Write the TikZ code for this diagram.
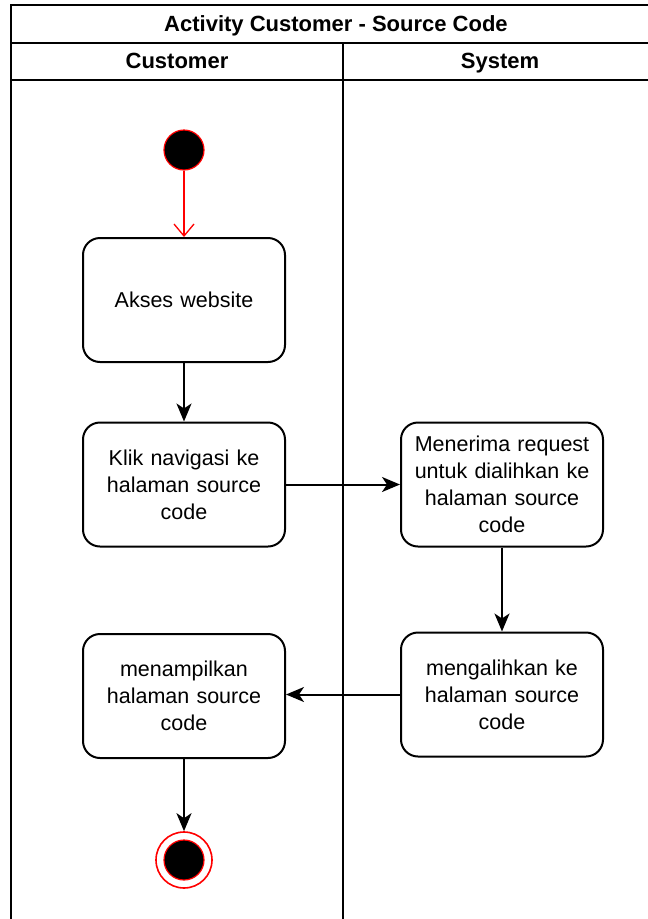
\documentclass[tikz,border=0pt]{standalone}
\usepackage{fontspec}
\setmainfont{Liberation Sans}
\usetikzlibrary{arrows.meta}
\definecolor{umlred}{RGB}{255,0,0}
\begin{document}
\begin{tikzpicture}[x=1pt,y=-1pt,
  lane/.style={draw=black,line width=2pt},
  actbox/.style={draw=black,line width=2pt,rounded corners=17pt,
    minimum width=202pt,minimum height=124pt,align=center,
    font=\fontsize{21.5}{27}\selectfont,inner sep=0pt,text width=198pt},
  flow/.style={draw=black,line width=2pt,-{Stealth[length=18pt,width=15pt,inset=5pt]}},
  startflow/.style={draw=umlred,line width=1.3pt,-{Straight Barb[length=12pt,width=20pt]}},
  hdr/.style={font=\bfseries\fontsize{22}{24}\selectfont,text height=15pt,text depth=4pt,inner sep=0pt}]
\useasboundingbox (0,0) rectangle (648,919);
\begin{scope}
\clip (0,0) rectangle (648,919);
% swimlane frame
\draw[lane] (11,940) -- (11,5) -- (660,5) -- (660,940);
\draw[lane] (11,43) -- (660,43);
\draw[lane] (11,80) -- (660,80);
\draw[lane] (343,43) -- (343,940);
\end{scope}
\node[hdr] (title) at (336,26) {Activity Customer - Source Code};
\node[hdr] (lc) at (177,63) {Customer};
\node[hdr] (ls) at (500,63) {System};
% start node
\node[circle,fill=black,draw=umlred,line width=1.2pt,minimum size=40pt,inner sep=0pt] (start) at (184,150) {};
% actions
\node[actbox] (a1) at (184,300) {Akses website};
\node[actbox] (a2) at (184,484.5) {Klik navigasi ke\\halaman source\\code};
\node[actbox] (a3) at (502,484.5) {Menerima request\\untuk dialihkan ke\\halaman source\\code};
\node[actbox] (a4) at (502,694.5) {mengalihkan ke\\halaman source\\code};
\node[actbox] (a5) at (184,696) {menampilkan\\halaman source\\code};
% final node
\node[circle,draw=umlred,line width=1.6pt,minimum size=56pt,inner sep=0pt] (final) at (184,860) {};
\node[circle,fill=black,draw=umlred,line width=1.2pt,minimum size=40pt,inner sep=0pt] (finalcore) at (184,860) {};
% connectors
\draw[startflow] (start) -- (a1);
\draw[flow] (a1) -- (a2);
\draw[flow] (a2) -- (a3);
\draw[flow] (a3) -- (a4);
\draw[flow] (a4) -- (a5.east |- a4);
\draw[flow] (a5) -- (final);
\end{tikzpicture}
\end{document}
